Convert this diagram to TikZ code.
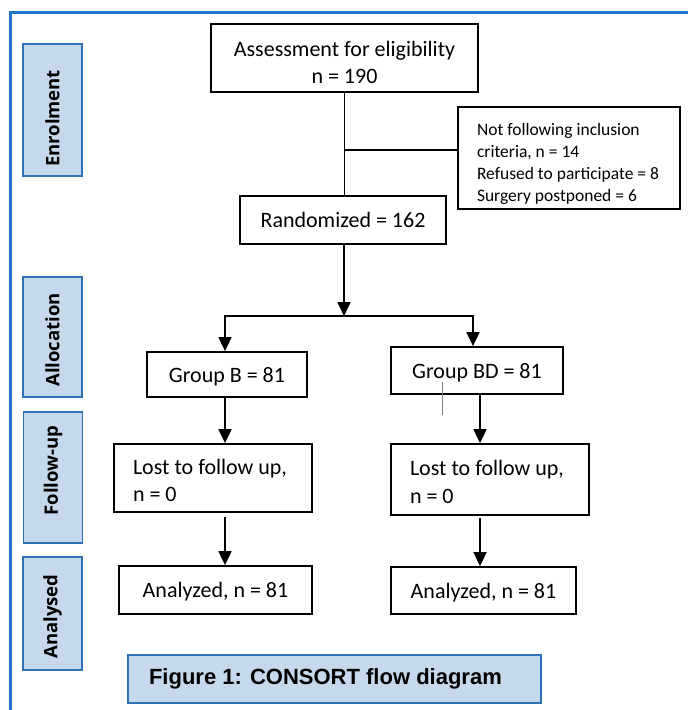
\documentclass[tikz,border=0pt]{standalone}
\usepackage{fontspec}
\setmainfont{Carlito}
\newfontfamily\stagefont{Open Sans}
\newfontfamily\captionfont{Liberation Sans}
\usetikzlibrary{arrows.meta, positioning}

\begin{document}
\begin{tikzpicture}[x=1pt, y=-1pt,
    box/.style={draw=black, line width=1.8pt, fill=white, inner sep=0pt, align=center,
        font=\fontsize{22}{27.5}\selectfont},
    onebox/.style={box, text depth=0pt},
    leftbox/.style={box, align=flush left, inner xsep=19pt},
    stagebox/.style={draw=stageBorder, fill=stageFill, line width=1.6pt, rotate=90,
        minimum height=59pt, inner sep=0pt, font=\stagefont\bfseries\fontsize{18.5}{22}\selectfont},
    arrow/.style={-{Triangle[width=13pt,length=14pt]}, line width=1.8pt},
    link/.style={line width=1.8pt}]
    % Define colors
    \definecolor{frameBlue}{HTML}{1F78CC}
    \definecolor{stageBorder}{HTML}{2E72BA}
    \definecolor{stageFill}{HTML}{C6D8EC}

    % Fix page size
    \useasboundingbox (0,0) rectangle (688,710);

    % Draw outer frame
    \draw[frameBlue, line width=3pt] (10,710) -- (10,12) -- (688,12);

    % Stage labels on the left
    \node[stagebox, minimum width=132pt] (enrol)  at (52.5,110)   {Enrolment\hspace*{17pt}};
    \node[stagebox, minimum width=120pt] (alloc)  at (52.5,337)   {Allocation\hspace*{6pt}};
    \node[stagebox, minimum width=131pt] (follow) at (53,477.5)   {\hspace*{14pt}Follow-up};
    \node[stagebox, minimum width=113pt] (anal)   at (52.5,613.5) {Analysed\hspace*{6pt}};

    % Enrolment boxes
    \node[box, align=flush center, text width=267pt, text depth=19pt, minimum height=68pt] (assess)
        at (344.5,58) {Assessment for eligibility\\n = 190};
    \node[leftbox, text width=184pt, text depth=58pt, minimum height=102pt,
        font=\fontsize{17.5}{22}\selectfont] (excl) at (569,158)
        {Not following inclusion\\criteria, n = 14\\Refused to participate = 8\\Surgery postponed = 6};
    \node[onebox, minimum width=206pt, minimum height=48pt] (rand) at (343,220) {Randomized = 162};

    % Allocation boxes
    \node[onebox, minimum width=160pt, minimum height=45pt] (grpB)  at (227,374.5) {Group B = 81};
    \node[onebox, minimum width=172pt, minimum height=47pt] (grpBD) at (477,370.5) {Group BD = 81};

    % Follow-up boxes
    \node[leftbox, text width=160pt, text depth=23pt, minimum height=68pt] (lostB)  at (213,478)
        {Lost to follow up,\\n = 0};
    \node[leftbox, text width=160pt, text depth=23pt, minimum height=71pt] (lostBD) at (490,479.5)
        {Lost to follow up,\\n = 0};

    % Analysed boxes
    \node[onebox, minimum width=193pt, minimum height=48pt] (anaB)  at (215.5,590) {Analyzed, n = 81};
    \node[onebox, minimum width=185pt, minimum height=47pt] (anaBD) at (483.5,590.5) {Analyzed, n = 81};

    % Connectors
    \coordinate (split) at (345,150);
    \coordinate (fork) at (344,316);
    \draw[link] (assess.south) -- (assess.south |- rand.north);
    \draw[link] (split) -- (split -| excl.west);
    \draw[arrow] (rand.south -| fork) -- (fork);
    \draw[arrow] (fork) -| ([xshift=-2pt]grpB.north);
    \draw[arrow] (fork) -| ([xshift=-4pt]grpBD.north);
    \draw[arrow] ([xshift=-2pt]grpB.south) -- ([xshift=-2pt]grpB.south |- lostB.north);
    \draw[arrow] ([xshift=3pt]grpBD.south) -- ([xshift=3pt]grpBD.south |- lostBD.north);
    \draw[arrow, shorten <=4pt] ([xshift=12pt]lostB.south) -- ([xshift=12pt]lostB.south |- anaB.north);
    \draw[arrow, shorten <=2pt] ([xshift=-10pt]lostBD.south) -- ([xshift=-10pt]lostBD.south |- anaBD.north);
    \draw[gray, line width=0.6pt] (442,382) -- (442,415);

    % Caption
    \node[draw=stageBorder, fill=stageFill, line width=1.6pt, minimum height=48pt,
        text width=371pt, inner xsep=21pt, align=flush left,
        font=\captionfont\bfseries\fontsize{22}{26}\selectfont] (caption) at (334.5,679)
        {Figure 1: CONSORT flow diagram};

\end{tikzpicture}
\end{document}
